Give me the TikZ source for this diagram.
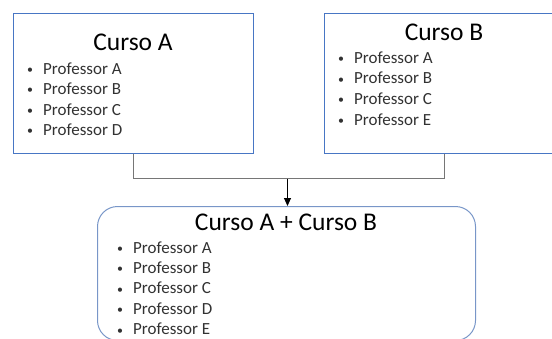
\documentclass[tikz,border=0pt]{standalone}
\usepackage{fontspec}
\setmainfont{Carlito}
\usepackage{xcolor}
\usepackage{graphicx}
\usetikzlibrary{arrows.meta, positioning}
\definecolor{boxblue}{RGB}{72,118,196}
\definecolor{roundblue}{RGB}{120,150,200}
\definecolor{linkgray}{RGB}{118,118,118}
\definecolor{itemgray}{RGB}{50,50,50}
\newcommand{\prof}[1]{\makebox[16pt][l]{\raisebox{0.6pt}{\scalebox{0.7}{\textbullet}}}Professor #1}

\begin{document}
\begin{tikzpicture}[
    x=1pt, y=-1pt,
    course/.style={
        draw=boxblue,
        line width=1pt,
        minimum width=240pt,
        minimum height=140pt,
        inner sep=0pt
    },
    merged/.style={
        draw=roundblue,
        line width=1pt,
        rounded corners=20pt,
        minimum width=378pt,
        minimum height=134pt,
        inner sep=0pt
    },
    title/.style={font=\fontsize{25.5}{30}\selectfont, anchor=base, inner sep=0pt},
    item/.style={font=\fontsize{17}{20.6}\selectfont, text=itemgray, anchor=base west, inner sep=0pt},
    link/.style={draw=linkgray, line width=1pt},
    arrow/.style={-{Triangle[length=8pt, width=7pt]}, line width=1pt, black}
]
\useasboundingbox (0,0) rectangle (552,338);
\clip (0,0) rectangle (552,338);

% course boxes
\node[course] (cursoA) at (133.5,83.5) {};
\node[course] (cursoB) at (444.5,83.5) {};
\node[merged] (cursoAB) at (286.5,273.5) {};

% titles
\node[title] (titleA) at (133,50) {Curso A};
\node[title] (titleB) at (444,40) {Curso B};
\node[title] (titleAB) at (286,230) {Curso A + Curso B};

% teacher lists
\foreach \p [count=\i from 0] in {A,B,C,D}
    \node[item] (profA-\p) at (27,74+20.5*\i) {\prof{\p}};
\foreach \p [count=\i from 0] in {A,B,C,E}
    \node[item] (profB-\p) at (338,63.3+20.6*\i) {\prof{\p}};
\foreach \p [count=\i from 0] in {A,B,C,D,E}
    \node[item] (profAB-\p) at (117,253+20.4*\i) {\prof{\p}};

% connectors
\coordinate (join) at (287.5,178.5);
\draw[link] (cursoA.south) |- (join) -| (cursoB.south);
\draw[arrow] (join) -- (join |- cursoAB.north);

\end{tikzpicture}
\end{document}
